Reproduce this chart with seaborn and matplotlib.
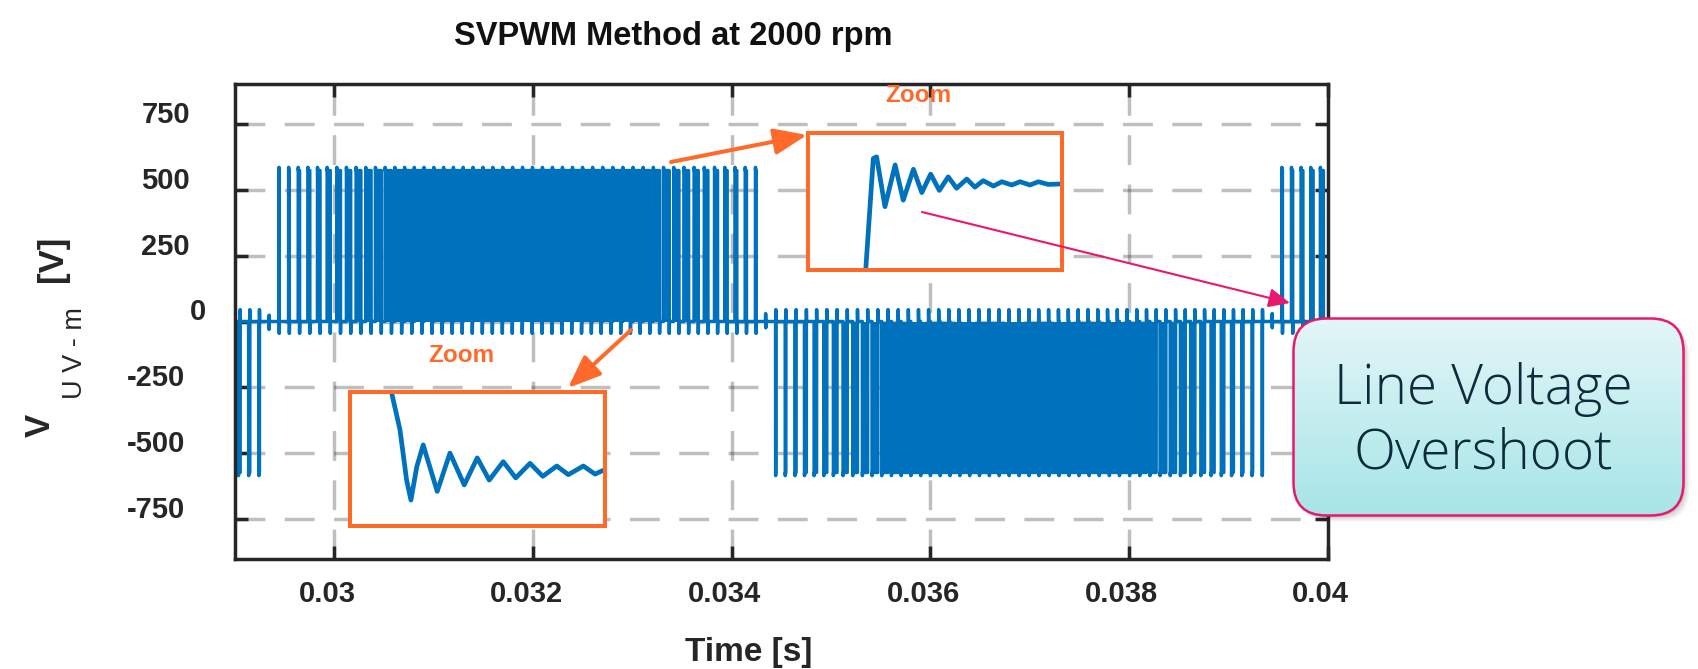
import numpy as np
import pandas as pd
import matplotlib
matplotlib.use("Agg")
import matplotlib.pyplot as plt
import seaborn as sns
from matplotlib.patches import FancyBboxPatch, FancyArrowPatch
from matplotlib.transforms import offset_copy

# ---------------------------------------------------------------
# Line voltage u_UV-m of an SVPWM inverter drive at 2000 rpm
# ---------------------------------------------------------------
time_window = (0.029, 0.040)          # s
voltage_window = (-900, 900)          # V
switching_period = 1.0e-4             # s, 10 kHz carrier
carrier_reference = 0.029643          # s, centre of one switching pulse
fundamental_freq = 99.8               # Hz, electrical frequency
zero_crossing = 0.02938               # s, start of a positive half wave
modulation_depth = 1.00               # peak line duty cycle
dc_link_voltage = 572.0               # V
overshoot_turn_on = 12.0              # V, ringing peak when a pulse starts
overshoot_turn_off = 45.0             # V, ringing peak when it returns to zero
dead_time = 3.0e-6                    # s
residual_ringing = 30.0               # V, left over when a pulse is swallowed

x_ticks = [0.030, 0.032, 0.034, 0.036, 0.038, 0.040]
x_tick_labels = ["0.03", "0.032", "0.034", "0.036", "0.038", "0.04"]
y_ticks = [-750, -500, -250, 0, 250, 500, 750]
y_tick_labels = ["-750", "-500", "-250", "0", "250", "500", "750"]

# magnified switching edges (time in µs, voltage in V)
rise_zoom_time = [2.22, 2.57, 2.70, 3.03, 3.43, 3.75, 4.15, 4.48, 4.83, 5.17, 5.52,
                  5.85, 6.25, 6.57, 6.90, 7.30, 7.63, 8.02, 8.35, 8.74, 9.07, 9.46, 10.0]
rise_zoom_volt = [340, 582, 585, 493, 570, 505, 562, 519, 553, 523, 548,
                  527, 544, 529, 541, 531, 539, 533, 539, 533, 539, 534, 535]
rise_zoom_limits = (376, 629)
fall_zoom_time = [1.52, 1.96, 2.22, 2.39, 2.62, 2.87, 3.42, 3.92, 4.48, 4.99,
                  5.46, 6.01, 6.50, 7.06, 7.56, 8.11, 8.56, 9.15, 9.61, 9.93]
fall_zoom_volt = [-367, -459, -552, -589, -527, -487, -573, -502, -561, -511,
                  -552, -518, -548, -521, -545, -526, -542, -526, -541, -534]
fall_zoom_limits = (-637, -389)

W, H, DPI = 1698, 669, 100
BLUE = "#0072BD"
ORANGE = "#FF6A2B"
MAGENTA = "#E8186D"
INK = "#262626"


def fx(px):
    return px / W


def fy(py):
    return 1 - py / H


# ---- build the switched line voltage pulse by pulse ----
k_first = int(np.floor((time_window[0] - carrier_reference) / switching_period)) - 1
k_last = int(np.ceil((time_window[1] - carrier_reference) / switching_period)) + 1
t_pts, v_pts = [time_window[0] - 5e-4], [0.0]
for k in range(k_first, k_last + 1):
    c = carrier_reference + k * switching_period
    duty = modulation_depth * np.sin(2 * np.pi * fundamental_freq * (c - zero_crossing))
    s = 1.0 if duty >= 0 else -1.0
    width = abs(duty) * switching_period - dead_time
    if width <= 0:
        t_pts += [c - 1e-6, c, c + 1.2e-6, c + 2.4e-6]
        v_pts += [0.0, s * residual_ringing, -s * 0.8 * residual_ringing, 0.0]
    else:
        t_on = c - width / 2
        t_off = max(c + width / 2, t_on + 2.2e-6)
        t_pts += [t_on, t_on + 0.6e-6, t_on + 2e-6, t_off, t_off + 0.6e-6, t_off + 2e-6]
        v_pts += [0.0, s * (dc_link_voltage + overshoot_turn_on), s * dc_link_voltage,
                  s * dc_link_voltage, -s * overshoot_turn_off, 0.0]
t_pts.append(time_window[1] + 5e-4)
v_pts.append(0.0)
wave = pd.DataFrame({"Time [s]": t_pts, "Voltage [V]": v_pts})

# ---- figure ----
sns.set_style("white")
plt.rcParams["font.family"] = ["Liberation Sans", "DejaVu Sans"]
plt.rcParams["axes.unicode_minus"] = False

fig = plt.figure(figsize=(W / DPI, H / DPI), dpi=DPI, facecolor="white")
ax = fig.add_axes([fx(235), fy(559), fx(1327.5) - fx(235), fy(84) - fy(559)])

grid_kw = dict(color="black", alpha=0.25, linewidth=2.5, linestyle=(0, (8.6, 5.6)), zorder=0.5)
for v in y_ticks:
    ax.axhline(v, **grid_kw)
for v in x_ticks[:-1]:
    ax.axvline(v, **grid_kw)

# pulse bodies plus the trace outline
ax.fill_between(wave["Time [s]"], wave["Voltage [V]"], 0, color=BLUE, linewidth=0, zorder=2)
sns.lineplot(data=wave, x="Time [s]", y="Voltage [V]", ax=ax, color=BLUE,
             linewidth=2.5, estimator=None, sort=False, legend=False, zorder=2)
ax.lines[-1].set_solid_joinstyle("round")
ax.lines[-1].set_solid_capstyle("round")

ax.set_xlim(time_window)
ax.set_ylim(voltage_window)
ax.set_xticks(x_ticks)
ax.set_yticks(y_ticks)
ax.set_xlabel("")
ax.set_ylabel("")
ax.tick_params(direction="in", length=9.4, width=2.5, color=INK,
               bottom=True, left=True, top=True, right=True,
               labelbottom=False, labelleft=False)
for sp in ax.spines.values():
    sp.set_linewidth(2.5)
    sp.set_color(INK)

tick_font = dict(fontsize=21, fontweight="bold", color=INK)
for v, lab in zip(y_ticks, y_tick_labels):
    dx = -45 if v > 0 else (-29 if v == 0 else -50)
    tr = offset_copy(ax.get_yaxis_transform(), fig=fig, x=dx, y=1, units="dots")
    ax.text(0, v, lab, transform=tr, ha="right", va="baseline", clip_on=False, **tick_font)
for v, lab in zip(x_ticks, x_tick_labels):
    tr = offset_copy(ax.get_xaxis_transform(), fig=fig, x=-7, y=-21, units="dots")
    ax.text(v, 0, lab, transform=tr, ha="center", va="top", clip_on=False, **tick_font)

# axis titles
fig.text(fx(673), fy(36), "SVPWM Method at 2000 rpm", ha="center", va="center",
         fontsize=23.5, fontweight="bold", color="#111111")
fig.text(fx(749), fy(652), "Time [s]", ha="center", va="center",
         fontsize=24, fontweight="bold", color=INK)
fig.text(fx(40.5), fy(425), "V", rotation=90, ha="center", va="center",
         fontsize=25, fontweight="bold", color=INK)
fig.text(fx(75), fy(353), "U V - m", rotation=90, ha="center", va="center",
         fontsize=19.5, color=INK)
fig.text(fx(52.5), fy(259), "[V]", rotation=90, ha="center", va="center",
         fontsize=25, fontweight="bold", color=INK)


# ---- zoom insets ----
def zoom_inset(rect_px, t, v, ylim):
    x0, y0, x1, y1 = rect_px
    iax = fig.add_axes([fx(x0), fy(y1), fx(x1) - fx(x0), fy(y0) - fy(y1)])
    iax.set_facecolor("white")
    sns.lineplot(x=t, y=v, ax=iax, color=BLUE, linewidth=3.4, estimator=None,
                 sort=False, legend=False)
    iax.lines[-1].set_solid_joinstyle("round")
    iax.set_xlim(0, 10)
    iax.set_ylim(ylim)
    iax.set_xticks([])
    iax.set_yticks([])
    iax.set_xlabel("")
    iax.set_ylabel("")
    for sp in iax.spines.values():
        sp.set_visible(True)
        sp.set_color(ORANGE)
        sp.set_linewidth(2.9)
    return iax


zoom_inset((808, 133, 1062, 270), rise_zoom_time, rise_zoom_volt, rise_zoom_limits)
zoom_inset((350, 392, 605, 526), fall_zoom_time, fall_zoom_volt, fall_zoom_limits)

zoom_font = dict(fontsize=17.5, fontweight="bold", color=ORANGE, ha="center", va="center")
fig.text(fx(918), fy(96), "Zoom", **zoom_font)
fig.text(fx(461), fy(355), "Zoom", **zoom_font)


def arrow(p0, p1, color, lw, scale, hw):
    fig.add_artist(FancyArrowPatch(
        (fx(p0[0]), fy(p0[1])), (fx(p1[0]), fy(p1[1])), transform=fig.transFigure,
        arrowstyle=f"-|>,head_length=1.0,head_width={hw}", mutation_scale=scale,
        color=color, linewidth=lw, shrinkA=0, shrinkB=0, zorder=10))


arrow((671, 162), (807, 135), ORANGE, 2.9, 20, 0.4)
arrow((631, 330), (568, 388), ORANGE, 2.9, 20, 0.4)

# ---- callout box ----
bx0, by0, bx1, by1 = 1292, 317, 1685, 517
bw, bh = bx1 - bx0, by1 - by0
gax = fig.add_axes([fx(bx0), fy(by1), fx(bx1) - fx(bx0), fy(by0) - fy(by1)], zorder=5)
gax.set_xlim(0, bw)
gax.set_ylim(0, bh)
gax.axis("off")
for i, a in enumerate([0.10, 0.07, 0.05]):
    off = 2 + 2 * i
    gax.add_patch(FancyBboxPatch((1.5 + off, 1.5 - off), bw - 3, bh - 3,
                                 boxstyle="round,pad=0,rounding_size=33",
                                 fc="black", ec="none", alpha=a, clip_on=False))
top_c = np.array([0.894, 0.965, 0.973])
bot_c = np.array([0.651, 0.898, 0.906])
frac = np.linspace(0, 1, 200)[:, None]
grad = (top_c[None, :] * (1 - frac) + bot_c[None, :] * frac)[:, None, :]
im = gax.imshow(grad, extent=(0, bw, 0, bh), origin="upper", aspect="auto", zorder=1)
clip = FancyBboxPatch((1.5, 1.5), bw - 3, bh - 3, boxstyle="round,pad=0,rounding_size=33",
                      transform=gax.transData, fc="none", ec="none")
im.set_clip_path(clip)
gax.add_patch(FancyBboxPatch((1.5, 1.5), bw - 3, bh - 3, boxstyle="round,pad=0,rounding_size=33",
                             fc="none", ec=MAGENTA, lw=1.8, clip_on=False, zorder=2))
gax.text(bw / 2 - 5, bh / 2 - 5, "Line Voltage\nOvershoot", ha="center", va="center",
         fontsize=39.5, fontweight="light", linespacing=1.22, color="#0E2B3C",
         family=["Open Sans", "Lato", "DejaVu Sans"], zorder=3)

arrow((922, 212), (1290, 303), MAGENTA, 1.5, 13, 0.45)

fig.savefig("out.png", dpi=DPI, facecolor="white")
